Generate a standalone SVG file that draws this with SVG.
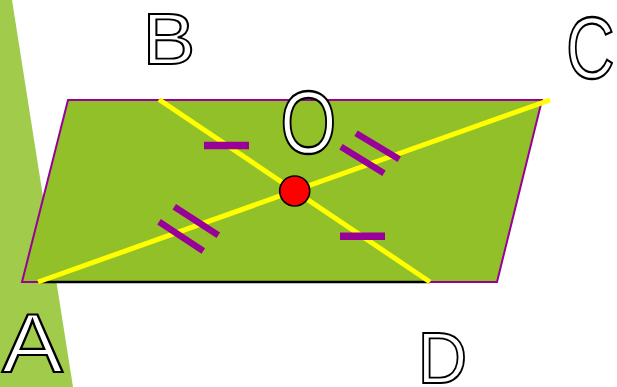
<svg xmlns="http://www.w3.org/2000/svg" width="617" height="387" viewBox="0 0 617 387">
  <style>
    .lbl { font-family: "Liberation Sans", Arial, sans-serif; font-size: 100px; fill: #ffffff; stroke: #000000; stroke-width: 2.6px; }
    .diag { stroke: #ffff00; stroke-width: 5; fill: none; }
    .tick { stroke: #990099; stroke-width: 6.5; fill: none; }
  </style>
  <rect width="617" height="387" fill="#ffffff"/>
  <g id="background-strip">
    <polygon points="0,0 12,0 73,387 0,387" fill="#a1cb4b"/>
  </g>
  <g id="parallelogram">
    <polygon points="68,100 542,100 497,282 22,282" fill="#92c028" stroke="#990099" stroke-width="2"/>
  </g>
  <g id="connectors">
    <line x1="38" y1="282" x2="430" y2="282" stroke="#000000" stroke-width="2.5"/>
    <line class="diag" x1="38" y1="282" x2="550" y2="100"/>
    <line class="diag" x1="159" y1="99.5" x2="430" y2="282"/>
    <line class="tick" x1="204" y1="145.5" x2="249" y2="145.5" style="stroke-width:7.6"/>
    <line class="tick" x1="340" y1="236.2" x2="385" y2="236.2" style="stroke-width:7.6"/>
    <line class="tick" x1="341" y1="146.7" x2="384" y2="173.3"/>
    <line class="tick" x1="356" y1="133.3" x2="399.3" y2="159.3"/>
    <line class="tick" x1="174.3" y1="206.7" x2="218.3" y2="235.3"/>
    <line class="tick" x1="159" y1="221.7" x2="203.3" y2="251"/>
  </g>
  <g id="point-O">
    <circle cx="294.7" cy="191" r="15" fill="#ff0000" stroke="#000000" stroke-width="1.6"/>
    <text class="lbl" transform="translate(280.2,152.9) scale(0.723,0.888)">O</text>
  </g>
  <g id="point-A">
    <text class="lbl" transform="translate(2.1,372) scale(0.912,0.838)">A</text>
  </g>
  <g id="point-B">
    <text class="lbl" transform="translate(142.5,64) scale(0.793,0.716)">B</text>
  </g>
  <g id="point-C">
    <text class="lbl" transform="translate(566,78) scale(0.673,0.874)">C</text>
  </g>
  <g id="point-D">
    <text class="lbl" transform="translate(417.5,383) scale(0.69,0.726)">D</text>
  </g>
</svg>
